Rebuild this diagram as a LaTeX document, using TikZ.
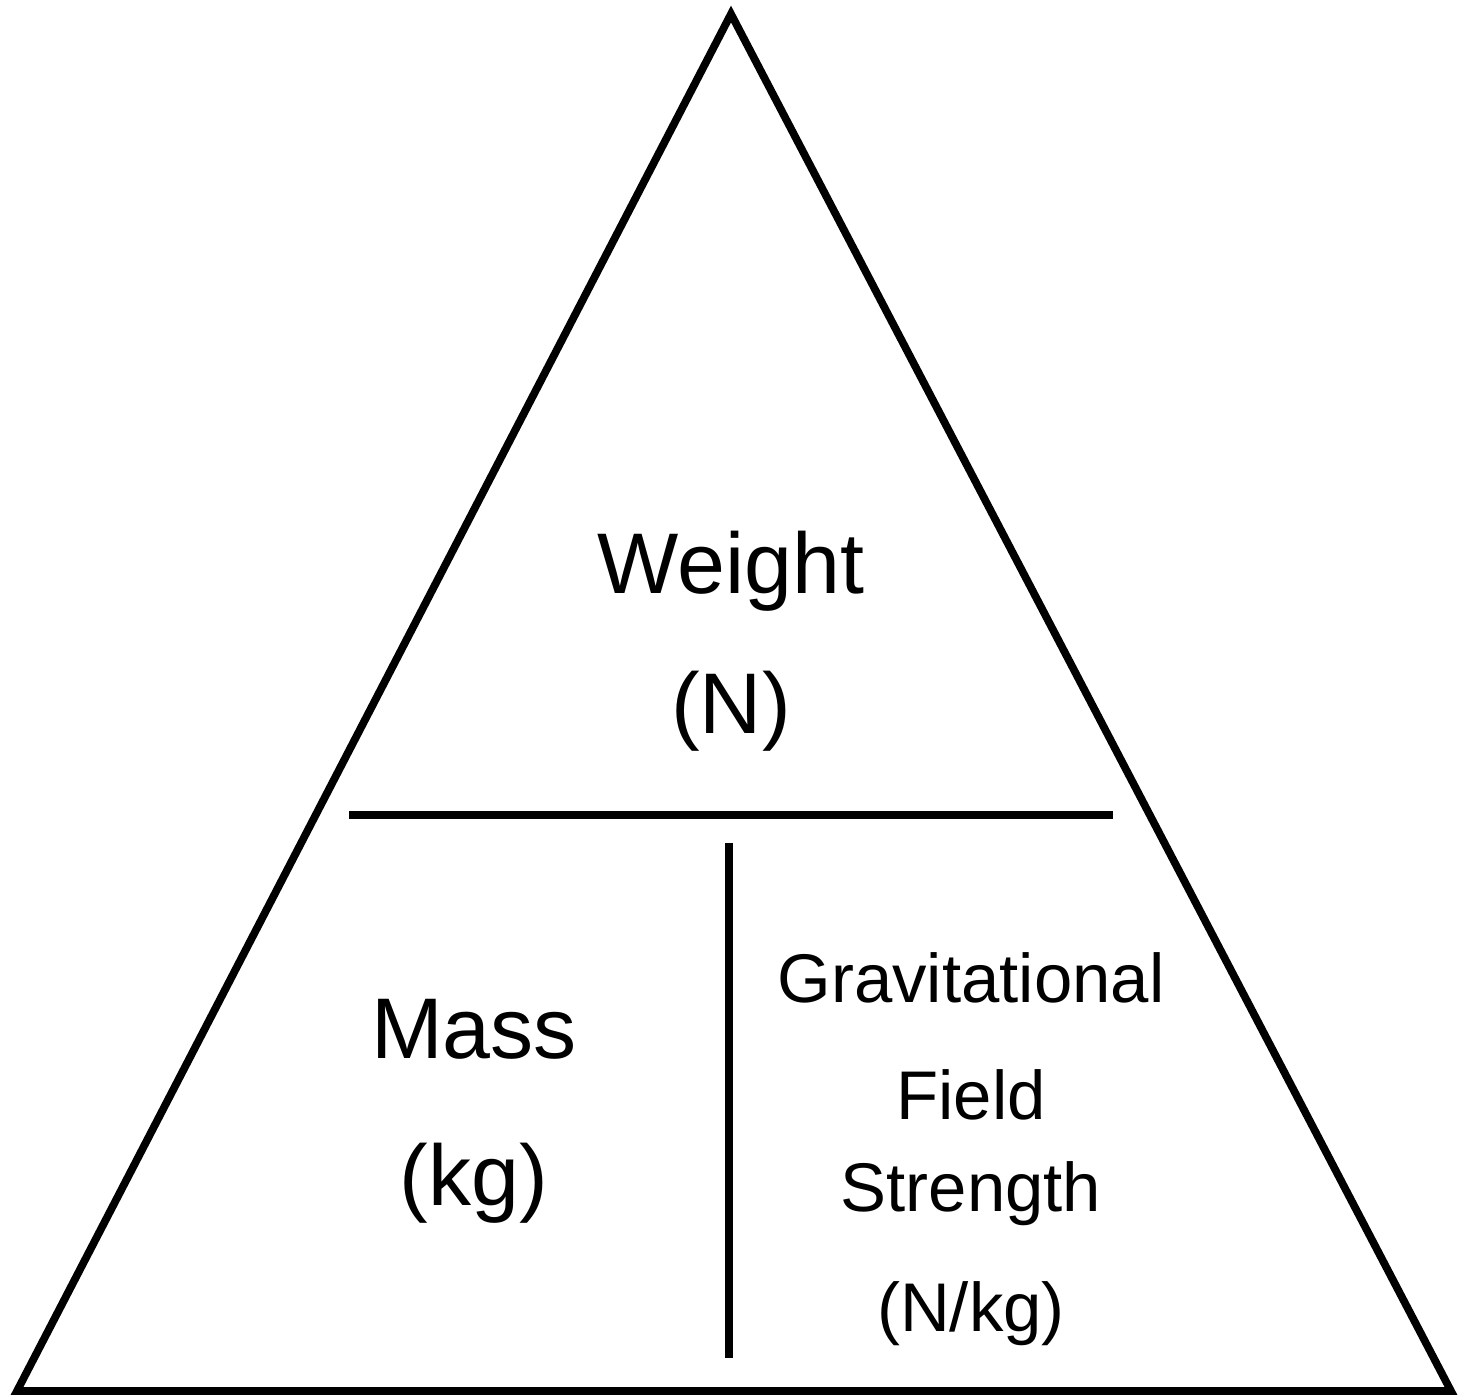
\documentclass[tikz,border=0pt]{standalone}
\usepackage{fontspec}
\setmainfont{Liberation Sans}
\begin{document}
\begin{tikzpicture}[line width=2.2pt,
  bigtext/.style={font=\fontsize{24.5}{28}\selectfont, anchor=base, inner sep=0pt},
  smalltext/.style={font=\fontsize{19.6}{23}\selectfont, anchor=base, inner sep=0pt}]
		\useasboundingbox (0,0) rectangle (14.71,13.96);
		
		% outer triangle
		\coordinate (apex) at (7.31,13.82);
		\coordinate (left) at (0.17,0.05);
		\coordinate (right) at (14.51,0.05);
		\draw[line join=miter] (apex) -- (left) -- (right) -- cycle;
		
		% dividers
		\coordinate (hl) at (3.49,5.81);
		\coordinate (hr) at (11.13,5.81);
		\draw (hl) -- (hr);
		\coordinate (vt) at (7.29,5.53);
		\coordinate (vb) at (7.29,0.38);
		\draw (vt) -- (vb);
		
		\node[bigtext] (weight) at (7.31,8.02) {Weight};
		\node[bigtext] (weightunit) at (7.31,6.62) {(N)};
		
		\node[bigtext] (mass) at (4.74,3.37) {Mass};
		\node[bigtext] (massunit) at (4.74,1.91) {(kg)};
		
		\node[smalltext] (grav) at (9.71,3.94) {Gravitational};
		\node[smalltext] (field) at (9.71,2.76) {Field};
		\node[smalltext] (strength) at (9.71,1.84) {Strength};
		\node[smalltext] (gravunit) at (9.71,0.64) {(N/kg)};
	\end{tikzpicture}
\end{document}
